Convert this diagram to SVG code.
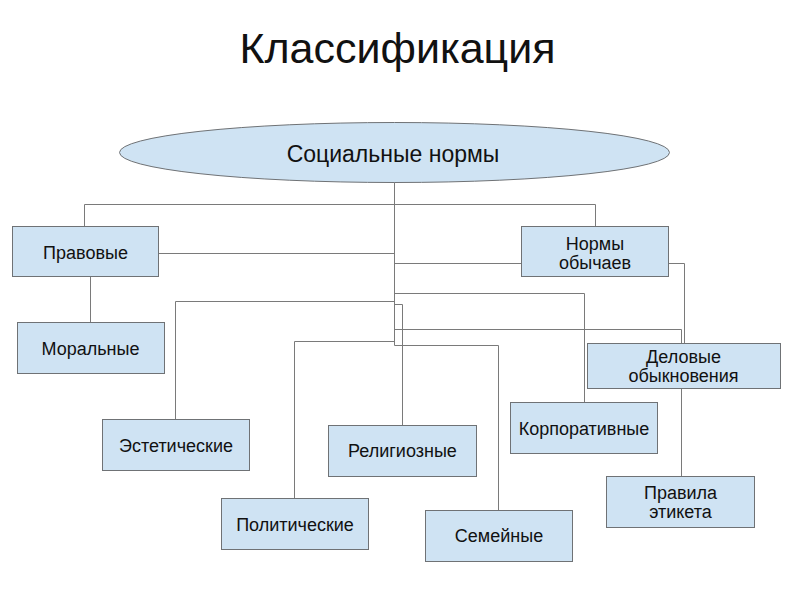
<svg xmlns="http://www.w3.org/2000/svg" width="794" height="595" viewBox="0 0 794 595">
<style>
.box{fill:#cfe3f3;stroke:#6f7275;stroke-width:1}
.ln{fill:none;stroke:#7a7a7a;stroke-width:1}
text{font-family:"Liberation Sans",Arial,sans-serif;fill:#111;text-anchor:middle}
.t{font-size:18px}
</style>
<rect width="794" height="595" fill="#ffffff"/>
<text x="397.5" y="62.5" style="font-size:43px">Классификация</text>
<g id="connectors">
<path class="ln" d="M394.5 182 V345.5"/>
<path class="ln" d="M84.5 226.5 V204.5 H595.5 V226.5"/>
<path class="ln" d="M159 253.5 H394.5"/>
<path class="ln" d="M521 263.5 H394.5"/>
<path class="ln" d="M669 263.5 H684.5 V343.5"/>
<path class="ln" d="M90.5 277 V322.5"/>
<path class="ln" d="M394.5 293.5 H584.5 V402.5"/>
<path class="ln" d="M394.5 301.5 H175.5 V419.5"/>
<path class="ln" d="M394.5 304.5 H402.5 V425.5"/>
<path class="ln" d="M394.5 329.5 H681.5 V476.5"/>
<path class="ln" d="M394.5 341.5 H294.5 V498.5"/>
<path class="ln" d="M394.5 345.5 H498.5 V510.5"/>
</g>
<g id="social">
<ellipse class="box" cx="394.5" cy="152.5" rx="275" ry="30"/>
<text x="393" y="161.5" style="font-size:23px">Социальные нормы</text>
</g>
<g id="pravovye">
<rect class="box" x="12.5" y="226.5" width="146" height="50"/>
<text class="t" x="85.5" y="258.5">Правовые</text>
</g>
<g id="obychai">
<rect class="box" x="521.5" y="226.5" width="147" height="50"/>
<text class="t" x="595" y="249.5">Нормы</text>
<text class="t" x="595" y="268.5">обычаев</text>
</g>
<g id="moralnye">
<rect class="box" x="17.5" y="322.5" width="147" height="51"/>
<text class="t" x="90.5" y="355">Моральные</text>
</g>
<g id="delovye">
<rect class="box" x="587.5" y="343.5" width="193" height="45"/>
<text class="t" x="683.5" y="362.5">Деловые</text>
<text class="t" x="683.5" y="382">обыкновения</text>
</g>
<g id="esteticheskie">
<rect class="box" x="102.5" y="419.5" width="147" height="51"/>
<text class="t" x="176" y="451.5">Эстетические</text>
</g>
<g id="religioznye">
<rect class="box" x="328.5" y="425.5" width="148" height="51"/>
<text class="t" x="402.5" y="457">Религиозные</text>
</g>
<g id="korporativnye">
<rect class="box" x="510.5" y="402.5" width="147" height="51"/>
<text class="t" x="584" y="434.5">Корпоративные</text>
</g>
<g id="politicheskie">
<rect class="box" x="221.5" y="498.5" width="147" height="51"/>
<text class="t" x="295" y="530.5">Политические</text>
</g>
<g id="semeinye">
<rect class="box" x="425.5" y="510.5" width="147" height="51"/>
<text class="t" x="499" y="542">Семейные</text>
</g>
<g id="etiket">
<rect class="box" x="606.5" y="476.5" width="148" height="51"/>
<text class="t" x="680.5" y="499">Правила</text>
<text class="t" x="680.5" y="517.5">этикета</text>
</g>
</svg>
